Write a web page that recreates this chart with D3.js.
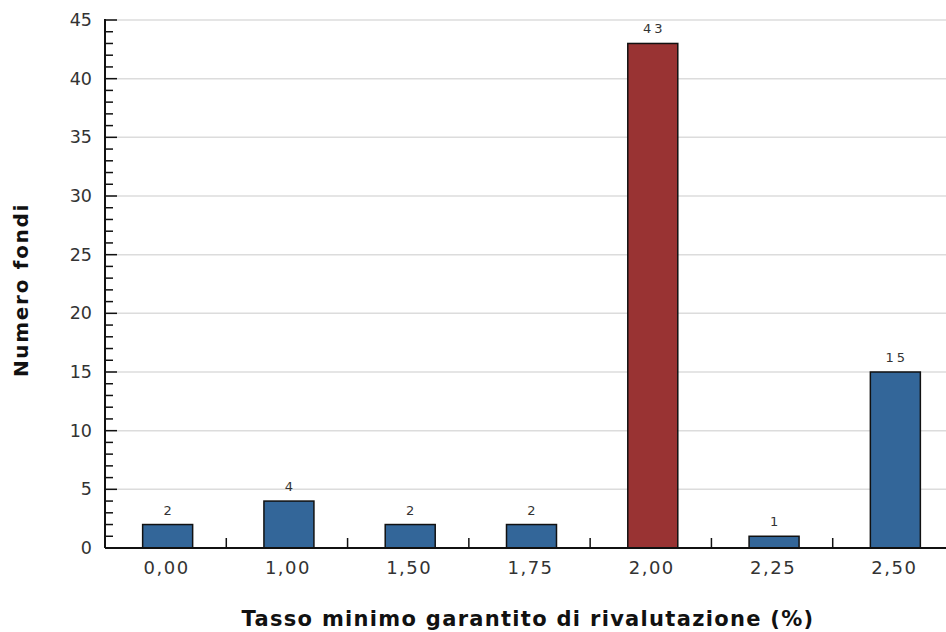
<!DOCTYPE html>
<html>
<head>
<meta charset="utf-8">
<script src="https://cdn.jsdelivr.net/npm/d3@7"></script>
<style>
  html, body { margin: 0; padding: 0; background: #fff; }
  svg { display: block; }
</style>
</head>
<body>
<svg id="chart" width="946" height="632"></svg>
<script>
// Distribution of funds by guaranteed minimum revaluation rate
const categories = ["0,00", "1,00", "1,50", "1,75", "2,00", "2,25", "2,50"];
const fundCounts = [2, 4, 2, 2, 43, 1, 15];
const highlighted = ["2,00"];
const yMajorTicks = [0, 5, 10, 15, 20, 25, 30, 35, 40, 45];
const yMinorTicks = d3.range(0, 46, 1);

const svg = d3.select("#chart");
const plotLeft = 105, plotRight = 954, plotTop = 20, plotBottom = 548;

const x = d3.scaleBand().domain(categories).range([plotLeft, plotRight]);
const y = d3.scaleLinear().domain([0, 45]).range([plotBottom, plotTop]);

const barW = 50;
const blue = "#336699", red = "#993333";
const font = "'DejaVu Sans', Verdana, sans-serif";

// horizontal grid
svg.append("g")
  .selectAll("line")
  .data(yMajorTicks.filter(d => d > 0))
  .join("line")
  .attr("x1", plotLeft).attr("x2", 946)
  .attr("y1", d => y(d)).attr("y2", d => y(d))
  .attr("stroke", "#dcdcdc").attr("stroke-width", 1.5);

// bars
svg.append("g")
  .selectAll("rect")
  .data(categories.map((c, i) => ({ c, v: fundCounts[i] })))
  .join("rect")
  .attr("x", d => x(d.c) + x.bandwidth() / 2 - barW / 2 + 2)
  .attr("y", d => y(d.v))
  .attr("width", barW)
  .attr("height", d => y(0) - y(d.v))
  .attr("fill", d => highlighted.includes(d.c) ? red : blue)
  .attr("stroke", "#111").attr("stroke-width", 1.5);

// value labels
svg.append("g")
  .selectAll("text")
  .data(categories.map((c, i) => ({ c, v: fundCounts[i] })))
  .join("text")
  .attr("x", d => x(d.c) + x.bandwidth() / 2 + 3.5)
  .attr("y", d => y(d.v) - 10)
  .attr("text-anchor", "middle")
  .attr("font-family", font).attr("font-size", 13)
  .attr("letter-spacing", 3)
  .attr("fill", "#333")
  .text(d => d.v);

// y axis: minor and major ticks drawn inward
const yAxisG = svg.append("g");
yAxisG.selectAll("line.minor")
  .data(yMinorTicks.filter(d => d % 5 !== 0))
  .join("line").attr("class", "minor")
  .attr("x1", plotLeft).attr("x2", plotLeft + 8)
  .attr("y1", d => y(d)).attr("y2", d => y(d))
  .attr("stroke", "#111").attr("stroke-width", 1.5);
yAxisG.selectAll("line.major")
  .data(yMajorTicks)
  .join("line").attr("class", "major")
  .attr("x1", plotLeft).attr("x2", plotLeft + 12)
  .attr("y1", d => y(d)).attr("y2", d => y(d))
  .attr("stroke", "#111").attr("stroke-width", 1.5);
yAxisG.append("line")
  .attr("x1", plotLeft).attr("x2", plotLeft)
  .attr("y1", plotTop - 1).attr("y2", plotBottom)
  .attr("stroke", "#111").attr("stroke-width", 2);
yAxisG.selectAll("text")
  .data(yMajorTicks)
  .join("text")
  .attr("x", plotLeft - 13)
  .attr("y", d => y(d))
  .attr("dy", "0.35em")
  .attr("text-anchor", "end")
  .attr("font-family", font).attr("font-size", 17.5)
  .attr("fill", "#333")
  .text(d => d);

// x axis
const xAxisG = svg.append("g");
xAxisG.append("line")
  .attr("x1", plotLeft).attr("x2", plotRight)
  .attr("y1", plotBottom).attr("y2", plotBottom)
  .attr("stroke", "#111").attr("stroke-width", 2);
xAxisG.selectAll("line.tick")
  .data(categories.slice(1))
  .join("line").attr("class", "tick")
  .attr("x1", d => x(d)).attr("x2", d => x(d))
  .attr("y1", plotBottom).attr("y2", plotBottom - 10)
  .attr("stroke", "#111").attr("stroke-width", 1.5);
xAxisG.selectAll("text")
  .data(categories)
  .join("text")
  .attr("x", d => x(d) + x.bandwidth() / 2 + 1)
  .attr("y", plotBottom + 20)
  .attr("dy", "0.35em")
  .attr("text-anchor", "middle")
  .attr("font-family", font).attr("font-size", 18)
  .attr("letter-spacing", 1.5)
  .attr("fill", "#333")
  .text(d => d);

// axis titles
svg.append("text")
  .attr("x", 528).attr("y", 619)
  .attr("dy", "0.35em")
  .attr("text-anchor", "middle")
  .attr("font-family", font).attr("font-size", 21).attr("font-weight", "bold")
  .attr("letter-spacing", 1.3)
  .attr("fill", "#111")
  .text("Tasso minimo garantito di rivalutazione (%)");

svg.append("text")
  .attr("transform", "translate(21,290) rotate(-90)")
  .attr("dy", "0.35em")
  .attr("text-anchor", "middle")
  .attr("font-family", font).attr("font-size", 20).attr("font-weight", "bold")
  .attr("letter-spacing", 1.7)
  .attr("fill", "#111")
  .text("Numero fondi");
</script>
</body>
</html>
